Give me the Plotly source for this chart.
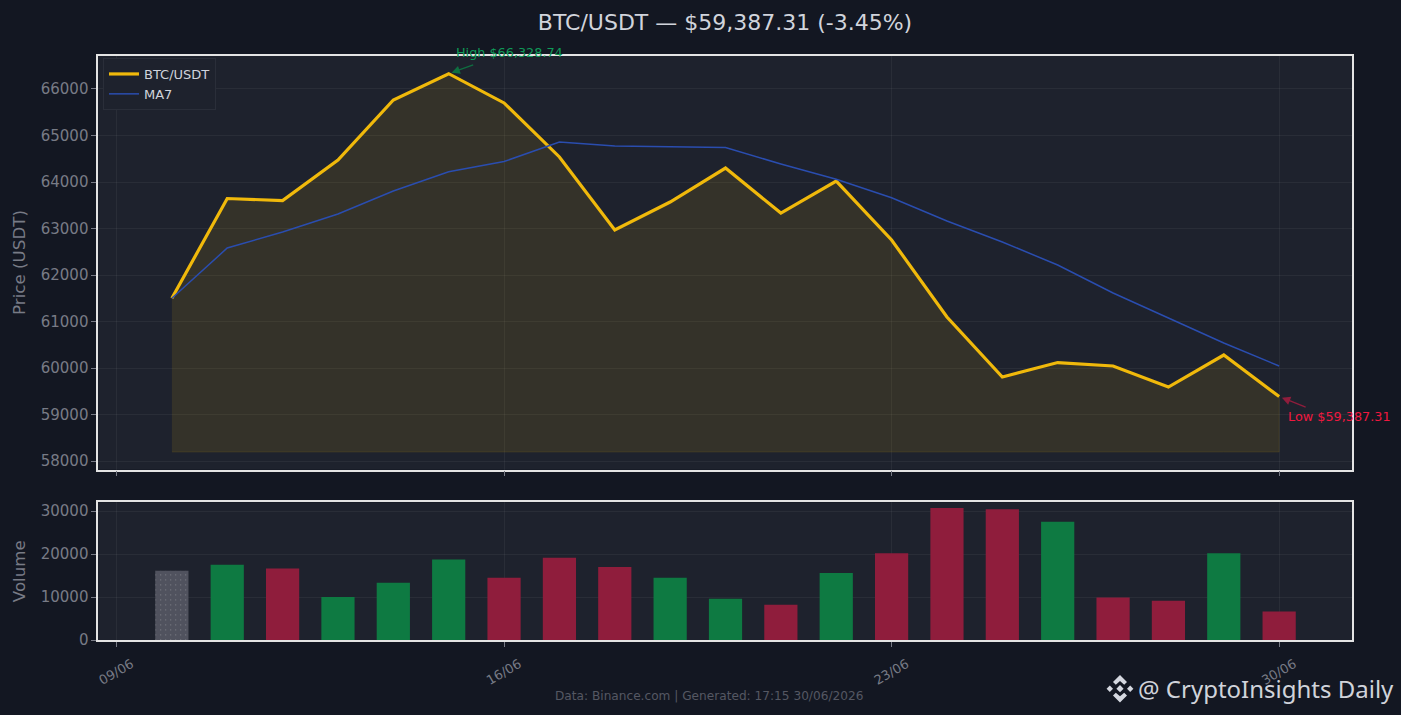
import plotly.graph_objects as go

dates = ["2026-06-%02d" % d for d in range(10, 31)]
price = [61500, 63645, 63602, 64473, 65763, 66328.74, 65700, 64538, 62968, 63570, 64300,
         63333, 64020, 62753, 61097, 59806, 60118, 60043, 59591, 60280, 59387.31]
ma7 = [61500, 62580, 62925, 63312, 63806, 64220, 64440, 64860, 64774, 64763, 64742,
       64387, 64060, 63660, 63160, 62710, 62215, 61613, 61075, 60538, 60043]
volume = [16100, 17500, 16600, 10000, 13300, 18700, 14500, 19100, 17000, 14500, 9600,
          8200, 15600, 20200, 30700, 30400, 27500, 9900, 9100, 20200, 6600]
direction = ["n", "u", "d", "u", "u", "u", "d", "d", "d", "u", "u",
             "d", "u", "d", "d", "d", "u", "d", "d", "u", "d"]
fill_floor = 58194

W, H = 1401, 715
PAGE = "#131722"; PANEL = "#1E222D"; GRID = "rgba(255,255,255,0.05)"
MUTED = "#787B86"; GOLD = "#F0B90B"; BLUE = "#2A4DAF"; SPINE = "#E4E4E4"
bar_colors = {"n": "#50525E", "u": "#0E7A42", "d": "#8F1D3C"}

fig = go.Figure()
fig.add_trace(go.Scatter(x=dates + dates[::-1], y=price + [fill_floor] * len(dates),
                         fill="toself", fillcolor="rgba(240,185,11,0.11)",
                         line=dict(color="rgba(240,185,11,0.10)", width=1),
                         mode="lines", showlegend=False, hoverinfo="skip"))
fig.add_trace(go.Scatter(x=dates, y=price, mode="lines", name="BTC/USDT",
                         line=dict(color=GOLD, width=3.2)))
fig.add_trace(go.Scatter(x=dates, y=ma7, mode="lines", name="MA7",
                         line=dict(color=BLUE, width=1.5)))
fig.add_trace(go.Bar(x=dates, y=volume, xaxis="x2", yaxis="y2", showlegend=False,
                     width=0.6 * 86400000,
                     marker=dict(color=[bar_colors[d] for d in direction], line_width=0,
                                 pattern=dict(shape=["." if d == "n" else "" for d in direction],
                                              size=5, solidity=0.03, fgcolor="#44464F",
                                              bgcolor="#50525E"))))

x_range = ["2026-06-08 16:04", "2026-07-01 07:40"]
xcommon = dict(type="date", range=x_range, tick0="2026-06-09", dtick=7 * 86400000,
               tickformat="%d/%m", showgrid=True, gridcolor=GRID, gridwidth=1, automargin=False,
               ticks="outside", ticklen=5, tickcolor=MUTED, tickwidth=1,
               showline=True, linecolor=SPINE, linewidth=1.5, mirror=True, zeroline=False)
ycommon = dict(showgrid=True, gridcolor=GRID, gridwidth=1, ticks="outside", ticklen=5, automargin=False,
               tickcolor=MUTED, tickwidth=1, showline=True, linecolor=SPINE, linewidth=1.5,
               mirror=True, zeroline=False, tickfont=dict(size=15, color=MUTED),
               title_font=dict(size=16.7, color=MUTED), tickformat="d")

logo = []
def poly(pts, cx=1120, cy=688.7):
    s = "M" + " L".join(f"{(cx + a) / W:.5f},{1 - (cy + b) / H:.5f}" for a, b in pts) + " Z"
    logo.append(dict(type="path", xref="paper", yref="paper", path=s,
                     fillcolor="#D5D8E0", line_width=0, layer="above"))
for r, c in ((3.6, 0), (3.2, -10.2), (3.2, 10.2)):
    poly([(c, -r), (c + r, 0), (c, r), (c - r, 0)])
for sgn in (1, -1):
    poly([(0, -13.8 * sgn), (7, -6.8 * sgn), (4.2, -4 * sgn), (0, -7.6 * sgn),
          (-4.2, -4 * sgn), (-7, -6.8 * sgn)])

hi, lo = 5, 20
anns = [
    dict(x=dates[hi], y=price[hi], xref="x", yref="y", text=" ", showarrow=True, axref="pixel", ayref="pixel",
         ax=28, ay=-10, arrowhead=2, arrowsize=1.2, arrowwidth=1.4, arrowcolor="#0F6E40", standoff=3),
    dict(x=dates[hi], y=price[hi], xref="x", yref="y", text="High $66,328.74", showarrow=False,
         xanchor="left", yanchor="middle", xshift=5, yshift=21, font=dict(color="#0F9A58", size=12.8)),
    dict(x=dates[lo], y=price[lo], xref="x", yref="y", text=" ", showarrow=True, axref="pixel", ayref="pixel",
         ax=30, ay=12, arrowhead=2, arrowsize=1.2, arrowwidth=1.4, arrowcolor="#8F1D3C", standoff=3),
    dict(x=dates[lo], y=price[lo], xref="x", yref="y", text="Low $59,387.31", showarrow=False,
         xanchor="left", yanchor="middle", xshift=7, yshift=-20, font=dict(color="#F0183F", size=12.8)),
    dict(x=708.5 / W, y=1 - 696 / H, xref="paper", yref="paper", yanchor="middle",
         text="Data: Binance.com | Generated: 17:15 30/06/2026",
         showarrow=False, font=dict(color="#555863", size=12.15)),
    dict(x=1136 / W, y=1 - 688.5 / H, xref="paper", yref="paper", text="@ CryptoInsights Daily",
         showarrow=False, xanchor="left", yanchor="middle",
         font=dict(family="Noto Sans", color="#D0D3DA", size=24)),
]

fig.update_layout(
    width=W, height=H, autosize=False, margin=dict(l=0, r=0, t=0, b=0, pad=0),
    paper_bgcolor=PAGE, plot_bgcolor=PANEL,
    font=dict(family="DejaVu Sans", color=MUTED),
    title=dict(text="BTC/USDT — $59,387.31 (-3.45%)", x=725 / W, xanchor="center",
               y=1 - 22 / H, yanchor="middle", font=dict(size=22, color="#D1D4DC")),
    xaxis=dict(domain=[98.2 / W, 1352.2 / W], anchor="y", showticklabels=False, **xcommon),
    xaxis2=dict(domain=[98.2 / W, 1352.2 / W], anchor="y2", tickangle=-30,
                tickfont=dict(size=13, color=MUTED), ticklabelshift=15, ticklabelstandoff=5, **xcommon),
    yaxis=dict(domain=[1 - 469.5 / H, 1 - 55.5 / H], range=[57818, 66720], title_text="Price (USDT)",
               dtick=1000, title_standoff=11, **ycommon),
    yaxis2=dict(domain=[1 - 640 / H, 1 - 502.4 / H], range=[0, 32000], title_text="Volume",
                dtick=10000, title_standoff=11, **ycommon),
    legend=dict(x=103 / W, y=1 - 58 / H, xanchor="left", yanchor="top", bgcolor="#1E222D",
                bordercolor="#2A2E39", borderwidth=1, font=dict(size=13, color="#D1D4DC")),
    bargap=0.4, shapes=logo, annotations=anns,
)

fig.write_html("out.html", config={"displayModeBar": False},
               post_script="document.body.style.margin='0';document.body.style.background='#131722';")
